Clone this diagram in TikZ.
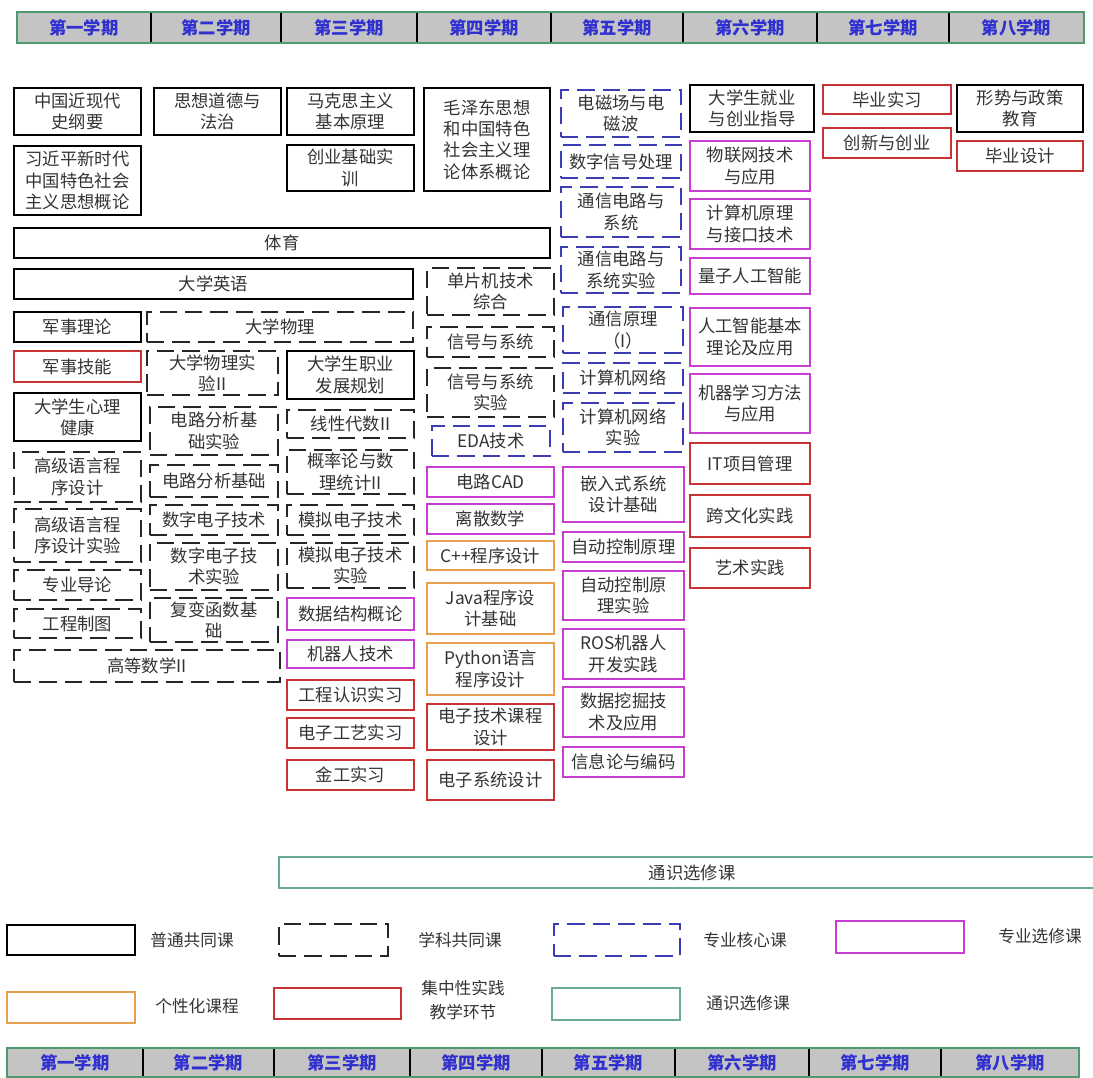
\documentclass[tikz,border=0pt]{standalone}
\usepackage{fontspec}
\newfontfamily\cjk{Noto Sans CJK SC}
\definecolor{magc}{HTML}{C83CD2}
\definecolor{redc}{HTML}{C83232}
\definecolor{orac}{HTML}{E8A050}
\definecolor{bluec}{HTML}{3C3CB4}
\definecolor{tealc}{HTML}{6AAA90}
\definecolor{headg}{HTML}{4E9A6E}
\definecolor{headf}{HTML}{C4C4C4}
\definecolor{headt}{HTML}{3030D0}
\definecolor{txt}{HTML}{333333}
\tikzset{
  cb/.style={inner sep=0pt, outer sep=0pt, align=center, text=txt,
    font=\cjk\fontsize{13}{16}\selectfont},
  solidb/.style={cb, draw=black, line width=1.1pt},
  dashb/.style={cb, draw=black!85, line width=1.2pt, dash pattern=on 13pt off 6pt},
  blueb/.style={cb, draw=bluec, line width=1.2pt, dash pattern=on 13pt off 6pt},
  magb/.style={cb, draw=magc, line width=1.1pt},
  redb/.style={cb, draw=redc, line width=1.1pt},
  orab/.style={cb, draw=orac, line width=1.1pt},
  tealb/.style={cb, draw=tealc, line width=1.1pt},
  headcell/.style={inner sep=0pt, outer sep=0pt, fill=headf, text=headt,
    font=\cjk\bfseries\fontsize{13}{15}\selectfont},
  legtext/.style={inner sep=0pt, align=center, text=txt,
    font=\cjk\fontsize{12.5}{18.5}\selectfont},
}
\newcommand\coursebox[7]{%
  \node[#2, minimum width={(#5-#3)*0.75pt}, minimum height={(#6-#4)*0.75pt}]
    (#1) at ({(#3+#5)/2},{(#4+#6)/2}) {#7};}
\begin{document}
\begin{tikzpicture}[x=0.75pt,y=-0.75pt]
\useasboundingbox (0,0) rectangle (1093,1078);
% ---------- header bar ----------
\coursebox{h1}{headcell}{17}{12}{151}{43}{第一学期}
\coursebox{h2}{headcell}{151}{12}{281}{43}{第二学期}
\coursebox{h3}{headcell}{281}{12}{417}{43}{第三学期}
\coursebox{h4}{headcell}{417}{12}{551}{43}{第四学期}
\coursebox{h5}{headcell}{551}{12}{683}{43}{第五学期}
\coursebox{h6}{headcell}{683}{12}{817}{43}{第六学期}
\coursebox{h7}{headcell}{817}{12}{949}{43}{第七学期}
\coursebox{h8}{headcell}{949}{12}{1084}{43}{第八学期}
\foreach \a in {h1,h2,h3,h4,h5,h6,h7}
  \draw[line width=1.1pt] (\a.north east) -- (\a.south east);
\draw[headg, line width=2.2pt] (h1.north west) rectangle (h8.south east);
% ---------- column 1 ----------
\coursebox{zg}{solidb}{14}{88}{141}{135}{中国近现代\\史纲要}
\coursebox{xjp}{solidb}{14}{146}{141}{215}{习近平新时代\\中国特色社会\\主义思想概论}
\coursebox{ty}{solidb}{14}{228}{550}{258}{体育}
\coursebox{dxyy}{solidb}{14}{269}{413}{299}{大学英语}
\coursebox{jsll}{solidb}{14}{312}{141}{342}{军事理论}
\coursebox{dxwl}{dashb}{147}{312}{413}{342}{大学物理}
\coursebox{jsjn}{redb}{14}{351}{141}{382}{军事技能}
\coursebox{xlj}{solidb}{14}{393}{141}{441}{大学生心理\\健康}
\coursebox{gjyy}{dashb}{14}{452}{141}{502}{高级语言程\\序设计}
\coursebox{gjyysy}{dashb}{14}{509}{141}{562}{高级语言程\\序设计实验}
\coursebox{zydl}{dashb}{14}{570}{141}{600}{专业导论}
\coursebox{gczt}{dashb}{14}{609}{141}{638}{工程制图}
\coursebox{gdsx}{dashb}{14}{650}{280}{682}{高等数学II}
% ---------- column 2 ----------
\coursebox{sxdd}{solidb}{154}{88}{281}{135}{思想道德与\\法治}
\coursebox{wlsy}{dashb}{147}{351}{278}{395}{大学物理实\\验II}
\coursebox{dlsy}{dashb}{150}{407}{278}{455}{电路分析基\\础实验}
\coursebox{dl}{dashb}{150}{465}{278}{497}{电路分析基础}
\coursebox{sd}{dashb}{150}{505}{278}{535}{数字电子技术}
\coursebox{sdsy}{dashb}{150}{543}{278}{590}{数字电子技\\术实验}
\coursebox{fb}{dashb}{150}{598}{278}{642}{复变函数基\\础}
% ---------- column 3 ----------
\coursebox{mks}{solidb}{287}{88}{414}{135}{马克思主义\\基本原理}
\coursebox{cyjc}{solidb}{287}{145}{414}{191}{创业基础实\\训}
\coursebox{zyfz}{solidb}{287}{351}{414}{399}{大学生职业\\发展规划}
\coursebox{xd}{dashb}{287}{410}{414}{438}{线性代数II}
\coursebox{gl}{dashb}{287}{450}{414}{494}{概率论与数\\理统计II}
\coursebox{md}{dashb}{287}{505}{414}{535}{模拟电子技术}
\coursebox{mdsy}{dashb}{287}{543}{414}{588}{模拟电子技术\\实验}
\coursebox{sjjg}{magb}{287}{598}{414}{630}{数据结构概论}
\coursebox{jqr}{magb}{287}{640}{414}{668}{机器人技术}
\coursebox{gcrs}{redb}{287}{680}{414}{710}{工程认识实习}
\coursebox{dzgy}{redb}{287}{718}{414}{748}{电子工艺实习}
\coursebox{jgsx}{redb}{287}{760}{414}{790}{金工实习}
% ---------- column 4 ----------
\coursebox{mzd}{solidb}{424}{88}{550}{191}{毛泽东思想\\和中国特色\\社会主义理\\论体系概论}
\coursebox{dpj}{dashb}{427}{268}{554}{315}{单片机技术\\综合}
\coursebox{xh}{dashb}{427}{327}{554}{357}{信号与系统}
\coursebox{xhsy}{dashb}{427}{368}{554}{417}{信号与系统\\实验}
\coursebox{eda}{blueb}{432}{426}{550}{456}{EDA技术}
\coursebox{cad}{magb}{427}{467}{554}{497}{电路CAD}
\coursebox{lssx}{magb}{427}{504}{554}{534}{离散数学}
\coursebox{cpp}{orab}{427}{541}{554}{570}{C++程序设计}
\coursebox{java}{orab}{427}{583}{554}{634}{Java程序设\\计基础}
\coursebox{py}{orab}{427}{643}{554}{695}{Python语言\\程序设计}
\coursebox{dzkc}{redb}{427}{704}{554}{750}{电子技术课程\\设计}
\coursebox{dzxt}{redb}{427}{760}{554}{800}{电子系统设计}
% ---------- column 5 ----------
\coursebox{dcc}{blueb}{561}{90}{681}{137}{电磁场与电\\磁波}
\coursebox{dsp}{blueb}{561}{145}{681}{178}{数字信号处理}
\coursebox{txdl}{blueb}{561}{187}{681}{237}{通信电路与\\系统}
\coursebox{txdlsy}{blueb}{561}{247}{681}{293}{通信电路与\\系统实验}
\coursebox{txyl}{blueb}{563}{307}{683}{353}{通信原理\\（I）}
\coursebox{wl}{blueb}{563}{363}{683}{393}{计算机网络}
\coursebox{wlsyy}{blueb}{563}{403}{683}{452}{计算机网络\\实验}
\coursebox{qrs}{magb}{563}{467}{684}{522}{嵌入式系统\\设计基础}
\coursebox{zdkz}{magb}{563}{532}{684}{562}{自动控制原理}
\coursebox{zdkzsy}{magb}{563}{571}{684}{620}{自动控制原\\理实验}
\coursebox{ros}{magb}{563}{629}{684}{679}{ROS机器人\\开发实践}
\coursebox{sjwj}{magb}{563}{687}{684}{737}{数据挖掘技\\术及应用}
\coursebox{xxl}{magb}{563}{747}{684}{777}{信息论与编码}
% ---------- column 6 ----------
\coursebox{jyzd}{solidb}{690}{85}{814}{132}{大学生就业\\与创业指导}
\coursebox{wlw}{magb}{690}{141}{810}{191}{物联网技术\\与应用}
\coursebox{jsjyl}{magb}{690}{199}{810}{249}{计算机原理\\与接口技术}
\coursebox{lz}{magb}{690}{258}{810}{294}{量子人工智能}
\coursebox{rgzn}{magb}{690}{308}{810}{366}{人工智能基本\\理论及应用}
\coursebox{jqxx}{magb}{690}{374}{810}{433}{机器学习方法\\与应用}
\coursebox{itxm}{redb}{690}{443}{810}{484}{IT项目管理}
\coursebox{kwh}{redb}{690}{495}{810}{537}{跨文化实践}
\coursebox{yssj}{redb}{690}{548}{810}{588}{艺术实践}
% ---------- columns 7, 8 ----------
\coursebox{bysx}{redb}{823}{85}{951}{114}{毕业实习}
\coursebox{cxcy}{redb}{823}{128}{951}{158}{创新与创业}
\coursebox{xszc}{solidb}{957}{85}{1083}{132}{形势与政策\\教育}
\coursebox{bysj}{redb}{957}{141}{1083}{171}{毕业设计}
% ---------- general electives ----------
\coursebox{tsxx}{tealb}{279}{857}{1105}{888}{通识选修课}
% ---------- legend ----------
\coursebox{lg1}{solidb}{7}{925}{135}{955}{}
\node[legtext] (lt1) at (192,940) {普通共同课};
\coursebox{lg2}{dashb}{279}{924}{388}{956}{}
\node[legtext] (lt2) at (460,940) {学科共同课};
\coursebox{lg3}{blueb}{554}{924}{680}{956}{}
\node[legtext] (lt3) at (745,940) {专业核心课};
\coursebox{lg4}{magb}{836}{921}{964}{953}{}
\node[legtext] (lt4) at (1040,936) {专业选修课};
\coursebox{lg5}{orab}{7}{992}{135}{1023}{}
\node[legtext] (lt5) at (197,1006) {个性化课程};
\coursebox{lg6}{redb}{274}{988}{401}{1019}{}
\node[legtext] (lt6) at (463,1000) {集中性实践\\教学环节};
\coursebox{lg7}{tealb}{552}{988}{680}{1020}{}
\node[legtext] (lt7) at (748,1003) {通识选修课};
% ---------- footer bar ----------
\coursebox{f1}{headcell}{7}{1048}{143}{1077}{第一学期}
\coursebox{f2}{headcell}{143}{1048}{274}{1077}{第二学期}
\coursebox{f3}{headcell}{274}{1048}{410}{1077}{第三学期}
\coursebox{f4}{headcell}{410}{1048}{542}{1077}{第四学期}
\coursebox{f5}{headcell}{542}{1048}{675}{1077}{第五学期}
\coursebox{f6}{headcell}{675}{1048}{809}{1077}{第六学期}
\coursebox{f7}{headcell}{809}{1048}{941}{1077}{第七学期}
\coursebox{f8}{headcell}{941}{1048}{1079}{1077}{第八学期}
\foreach \a in {f1,f2,f3,f4,f5,f6,f7}
  \draw[line width=1.1pt] (\a.north east) -- (\a.south east);
\draw[headg, line width=2.2pt] (f1.north west) rectangle (f8.south east);
\end{tikzpicture}
\end{document}
